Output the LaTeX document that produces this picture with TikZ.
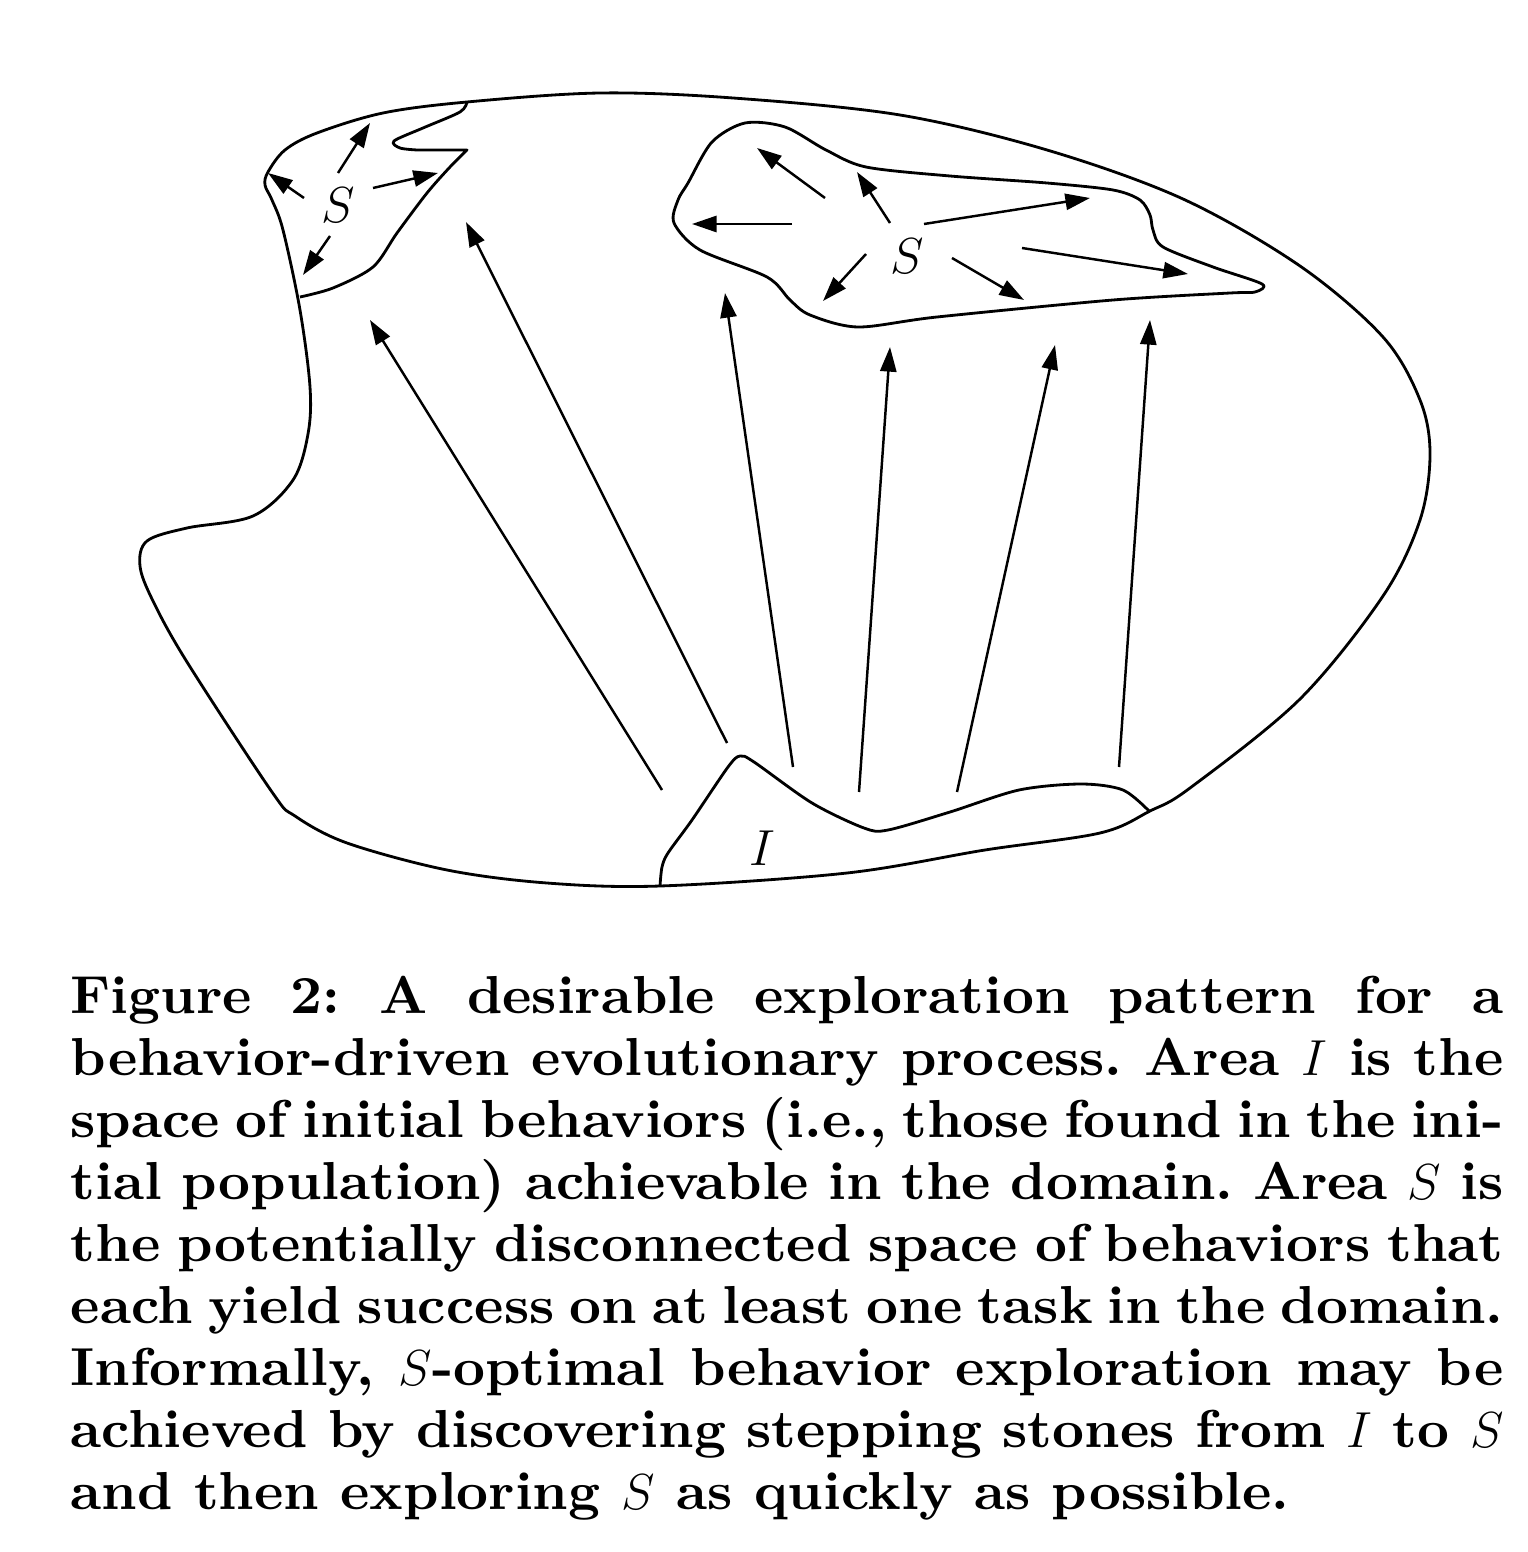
\documentclass[tikz,border=0pt]{standalone}
\usepackage{fontspec}
\usepackage{tikz}
\usetikzlibrary{arrows.meta}

\newfontfamily\capfont{lmroman10-bold}[Extension=.otf, FakeStretch=1.04]

\tikzset{
  region/.style={line width=0.8pt, line join=round},
  explore/.style={line width=0.7pt, -{Triangle[length=7pt,width=4.6pt]}},
  areaname/.style={inner sep=0pt, font=\fontsize{15.2}{18}\selectfont},
  capt/.style={inner sep=0pt, text width=14.32cm, align=justify,
    font=\fontsize{15.2}{17.65}\capfont\frenchspacing},
}

\begin{document}
\begin{tikzpicture}[x=0.01cm,y=-0.01cm]
\path[use as bounding box] (0,0) rectangle (1528,1552);

% whole behavior space
\draw[region] plot[smooth cycle, tension=0.55] coordinates {
  (268,172) (285,150) (317,133) (383,113) (467,102) (600,93) (733,98)
  (900,115) (1047,150) (1183,199) (1300,266) (1383,337) (1420,400)
  (1430,454) (1420,520) (1383,596) (1300,699) (1190,788) (1150,811)
  (1100,833) (985,850) (847,873) (660,886) (547,883) (447,870)
  (347,843) (295,816) (272,792) (187,662) (153,601) (140,566)
  (147,541) (187,528) (253,516) (293,480) (308,434) (310,387)
  (300,310) (283,230) (272,200) (265,185)};

% small S area, top left
\draw[region] plot[smooth, tension=0.5] coordinates {
  (467,102) (460,112) (423,128) (394,141) (400,148) (417,150)}
  -- (467,150)
  -- plot[smooth, tension=0.5] coordinates {
  (467,150) (450,167) (427,193) (397,233) (373,267) (333,288) (300,297)};

% large S area
\draw[region] plot[smooth cycle, tension=0.5] coordinates {
  (688,183) (712,142) (745,123) (785,127) (826,150) (866,167)
  (950,176) (1047,183) (1113,190) (1140,200) (1150,215) (1153,230)
  (1163,247) (1213,267) (1262,284) (1255,292) (1230,293) (1113,300)
  (937,317) (858,327) (810,315) (790,300) (767,277) (700,250)
  (674,223) (678,200)};

% I area
\draw[region] plot[smooth, tension=0.5] coordinates {
  (660,886) (662,867) (668,853) (692,820) (728,767) (740,756)
  (754,762) (812,803) (864,828) (888,830) (950,812) (1019,790)
  (1081,784) (1123,790) (1150,812)};

% labels
\node[areaname] (sleft) at (338,205) {$S$};
\node[areaname] (sright) at (907,256) {$S$};
\node[areaname] (init) at (762,848) {$I$};

% stepping stones from I, then exploration inside both S areas
\foreach \xa/\ya/\xb/\yb in {662/790/370/320, 727/743/466/222,
    793/767/725/293, 859/792/890/347, 957/792/1055/345,
    1119/767/1150/320,
    338/173/370/123, 304/198/268/173, 373/188/438/173, 330/236/303/275,
    792/224/692/224, 825/198/757/148, 890/223/857/172, 924/224/1090/198,
    866/254/823/301, 952/258/1024/300, 1022/248/1188/274}
  \draw[explore] (\xa,\ya) -- (\xb,\yb);

% caption
\node[capt, anchor=north west] (caption) at (70,975) {Figure 2: A desirable
exploration pattern for a\linebreak
behavior-driven evolutionary process. Area $I$ is the\linebreak
space of initial behaviors (i.e., those found in the ini-\linebreak
tial population) achievable in the domain. Area $S$ is\linebreak
the potentially disconnected space of behaviors that\linebreak
each yield success on at least one task in the domain.\linebreak
Informally, $S$-optimal behavior exploration may be\linebreak
achieved by discovering stepping stones from $I$ to $S$\linebreak
and then exploring $S$ as quickly as possible.};
\end{tikzpicture}
\end{document}
